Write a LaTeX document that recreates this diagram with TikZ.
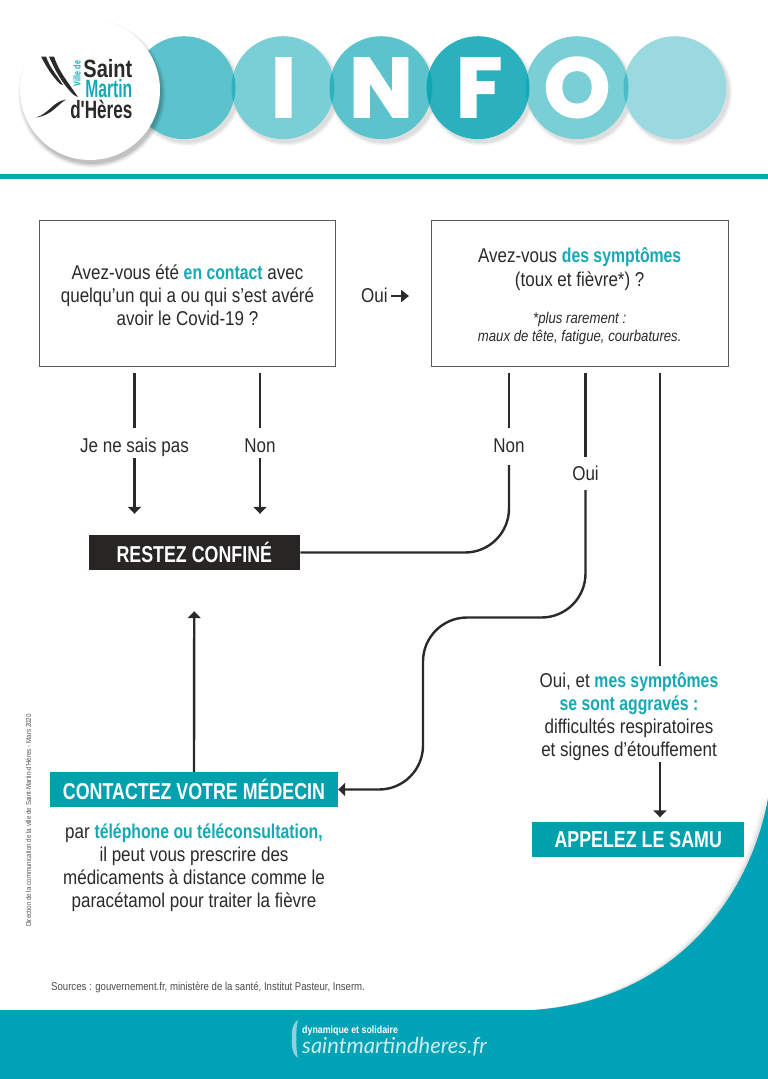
\documentclass[tikz,border=0pt]{standalone}
\usepackage{fontspec}
\setmainfont{Liberation Sans}[FakeStretch=0.85]
\newfontfamily\infofont{Poppins}[FakeBold=2.2]
\newfontfamily\logofont{Liberation Sans}[FakeStretch=0.72]
\newfontfamily\barfont{Liberation Sans}[FakeStretch=0.775]
\newfontfamily\hlfont{Liberation Sans}[FakeStretch=0.79]
\newfontfamily\footfont{Lato}
\usetikzlibrary{arrows.meta,calc}
\definecolor{tealbase}{HTML}{00A2B0}
\definecolor{tealbar}{HTML}{00A0AC}
\definecolor{tealtext}{HTML}{16A9B4}
\definecolor{footerteal}{HTML}{00A2B5}
\definecolor{inkdark}{HTML}{2B2A29}
\definecolor{bluelight}{HTML}{8ED3DC}
\newcommand{\hl}[1]{\textcolor{tealtext}{\hlfont\bfseries #1}}
\tikzset{
  askbox/.style={draw=black!65,line width=.9pt,fill=white,minimum width=296.5pt,minimum height=146.5pt,inner sep=0pt,align=center,text=inkdark,font=\fontsize{20}{23}\selectfont},
  flowlabel/.style={inner sep=0pt,align=center,text=inkdark,font=\fontsize{20}{23}\selectfont},
  darkbar/.style={fill=inkdark!90!black,text=white,minimum height=35pt,inner sep=0pt,font=\barfont\fontsize{23}{24}\selectfont\bfseries},
  tealbox/.style={fill=tealbar,text=white,minimum height=35pt,inner sep=0pt,font=\barfont\fontsize{23}{24}\selectfont\bfseries},
  wire/.style={draw=inkdark,line width=2.4pt},
  arrowwire/.style={wire,-{Triangle[width=13pt,length=7pt]}},
  curved wire/.style={rounded corners=44pt},
  bead/.style={fill=tealbase},
  beadletter/.style={text=white,inner sep=0pt,font=\infofont\fontsize{84}{84}\selectfont\bfseries,anchor=base},
  beadshade/.style={fill=black},
}
\begin{document}
\begin{tikzpicture}[x=1pt,y=-1pt]
\useasboundingbox (0,0) rectangle (768,1079);
\fill[white] (0,0) rectangle (768,1079);

% footer with its soft shadow
\foreach \d/\o in {6/.03,4/.04,2/.06}{
  \fill[black,opacity=\o] (768-\d,798) .. controls (752-\d,890) and (680-\d,1000-\d/2) .. (533,1010) -- (768,1010) -- cycle;
}
\fill[footerteal] (768,798) .. controls (752,890) and (680,1000) .. (533,1010) -- (0,1010) -- (0,1079) -- (768,1079) -- cycle;

% header rule
\fill[tealbar!95!white] (0,173.5) rectangle (768,179);

% bead shadows
\foreach \cx in {184,283,381,478,577,675}{
  \foreach \e/\o in {3/.025,2/.03,1/.035,0/.04}{
    \fill[beadshade,opacity=\o] (\cx+3,91.5) circle (51.5+\e);
  }
}
% white underlay so that the shadows do not tint the beads
\foreach \cx in {184,283,381,478,577,675}{
  \fill[white] (\cx,87.7) circle (51.5);
}
% beads
\foreach \cx/\o in {184/.64,283/.52,381/.64,478/.83,577/.52,675/.40}{
  \fill[bead,opacity=\o] (\cx,87.7) circle (51.5);
}
\node[beadletter] (letI) at (283.5,117) {I};
\node[beadletter] (letN) at (381,117) {N};
\node[beadletter] (letF) at (479,117) {F};
\node[beadletter] (letO) at (577,117) {O};

% logo disc
\foreach \e/\o in {4/.03,3/.04,2/.05,1/.06,0/.08}{
  \fill[black,opacity=\o] (92,94) circle (70+\e);
}
\fill[white] (90,90) circle (70);
\fill[inkdark] (41,56.5) -- (46,56.5) .. controls (50,68) and (56,74) .. (63,85) -- (60,84) .. controls (52,76) and (47,68) .. (41,56.5) -- cycle;
\fill[inkdark] (49,56.5) -- (54,56.5) .. controls (59,72) and (68,82) .. (78,97) -- (74,95) .. controls (62,84) and (55,70) .. (49,56.5) -- cycle;
\fill[inkdark] (36,117.5) .. controls (50,113) and (52,102) .. (66,99.5) .. controls (56,106) and (52,115) .. (36,117.5) -- cycle;
\node[inner sep=0pt,anchor=base east,align=right,text=inkdark,font=\logofont\fontsize{25}{20.5}\selectfont\bfseries] (lgT) at (132.5,118) {\scalebox{1.11}[1]{Saint}\\\textcolor{tealtext}{\scalebox{.87}[1]{Martin}}\\\scalebox{.95}[1]{d'Hères}};
\node[inner sep=0pt,rotate=90,text=tealtext,font=\logofont\fontsize{10}{10}\selectfont\bfseries] (lgV) at (77,73.5) {Ville de};

% question boxes
\node[askbox] (boxL) at (187.5,293.2) {\rule{0pt}{18pt}Avez-vous été \hl{en contact} avec\\quelqu’un qui a ou qui s’est avéré\\avoir le Covid-19 ?};
\node[askbox] (boxR) at (579.7,293.2) {\rule{0pt}{21pt}Avez-vous \hl{des symptômes}\\[1pt](toux et fièvre*) ?\\[14pt]{\fontsize{15.5}{18}\selectfont\itshape *plus rarement :}\\[-5pt]{\fontsize{15.5}{18}\selectfont\itshape maux de tête, fatigue, courbatures.}};

% Oui between boxes
\node[flowlabel,anchor=west] (ouiTop) at (361,295) {Oui};
\coordinate (ouiTip) at (409,296);
\draw[wire,-{Triangle[width=12pt,length=8pt]}] ($(ouiTop.east |- ouiTip)+(3,0)$) -- (ouiTip);

% action bars
\node[darkbar,minimum width=211.5pt] (stay) at (194.3,552.5) {RESTEZ CONFINÉ};
\node[tealbox,minimum width=288pt] (doctor) at (194,789.5) {CONTACTEZ VOTRE MÉDECIN};
\node[tealbox,minimum width=212.5pt] (samu) at (638.2,839.5) {APPELEZ LE SAMU};

% flow labels
\node[flowlabel,minimum height=30pt,text height=18.3pt,text depth=0pt] (dunno) at (134.5,443) {Je ne sais pas};
\node[flowlabel,minimum height=30pt,text height=18.3pt,text depth=0pt] (nonL) at (260,443) {Non};
\node[flowlabel,minimum height=37pt,text height=14.3pt,text depth=3pt] (nonR) at (509,446.5) {Non};
\node[flowlabel,minimum height=33pt,text height=14.3pt,text depth=1pt] (ouiR) at (585.5,473.5) {Oui};
\node[flowlabel] (worse) at (629,717) {Oui, et \hl{mes symptômes}\\\hl{se sont aggravés :}\\difficultés respiratoires\\et signes d’étouffement};
\node[flowlabel] (advice) at (194,867.5) {par \hl{téléphone ou téléconsultation,}\\il peut vous prescrire des\\médicaments à distance comme le\\paracétamol pour traiter la fièvre};

% connectors
\draw[wire,shorten <=6.5pt] (dunno.north |- boxL.south) -- (dunno.north);
\draw[arrowwire,shorten >=21pt] (dunno.south) -- (dunno.south |- stay.north);
\draw[wire,shorten <=6.5pt] (nonL.north |- boxL.south) -- (nonL.north);
\draw[arrowwire,shorten >=21pt] (nonL.south) -- (nonL.south |- stay.north);
\draw[wire,shorten <=6.5pt] (nonR.north |- boxR.south) -- (nonR.north);
\draw[wire,curved wire] (nonR.south) |- (stay.east);
\draw[wire,shorten <=6.5pt] (ouiR.north |- boxR.south) -- (ouiR.north);
\draw[arrowwire,curved wire] (ouiR.south) -- (585.5,617.5) -- (423,617.5) -- (423,789.5) -- (doctor.east);
\coordinate (severeTop) at (660,666);
\coordinate (severeLow) at (660,762);
\draw[wire,shorten <=6.5pt] (severeTop |- boxR.south) -- (severeTop);
\draw[arrowwire,shorten >=4.5pt] (severeLow) -- (severeLow |- samu.north);
\draw[arrowwire,shorten >=41pt] (doctor.north) -- (stay.south);

% small print
\node[inner sep=0pt,anchor=west,text=inkdark!85,font=\fontsize{11.3}{13}\selectfont] (src) at (51,987) {Sources : gouvernement.fr, ministère de la santé, Institut Pasteur, Inserm.};
\node[inner sep=0pt,rotate=90,text=inkdark!80,font=\fontsize{7.3}{8}\selectfont] (credit) at (28.5,820.5) {Direction de la communication de la ville de Saint-Martin-d’Hères - Mars 2020};

% footer brand
\fill[bluelight] (298,1020) .. controls (291,1025) and (292,1032) .. (292,1039) .. controls (292,1046) and (291,1053) .. (298,1058) .. controls (296,1050) and (296.5,1045) .. (296.5,1039) .. controls (296.5,1033) and (296,1028) .. (298,1020) -- cycle;
\node[inner sep=0pt,anchor=base west,text=white,font=\fontsize{10.4}{12}\selectfont\bfseries] (slogan) at (302,1033.5) {dynamique et solidaire};
\node[inner sep=0pt,anchor=base west,text=white!80!footerteal,font=\footfont\fontsize{22}{24}\selectfont\itshape] (site) at (302,1053) {saintmartindheres.fr};
\end{tikzpicture}
\end{document}
